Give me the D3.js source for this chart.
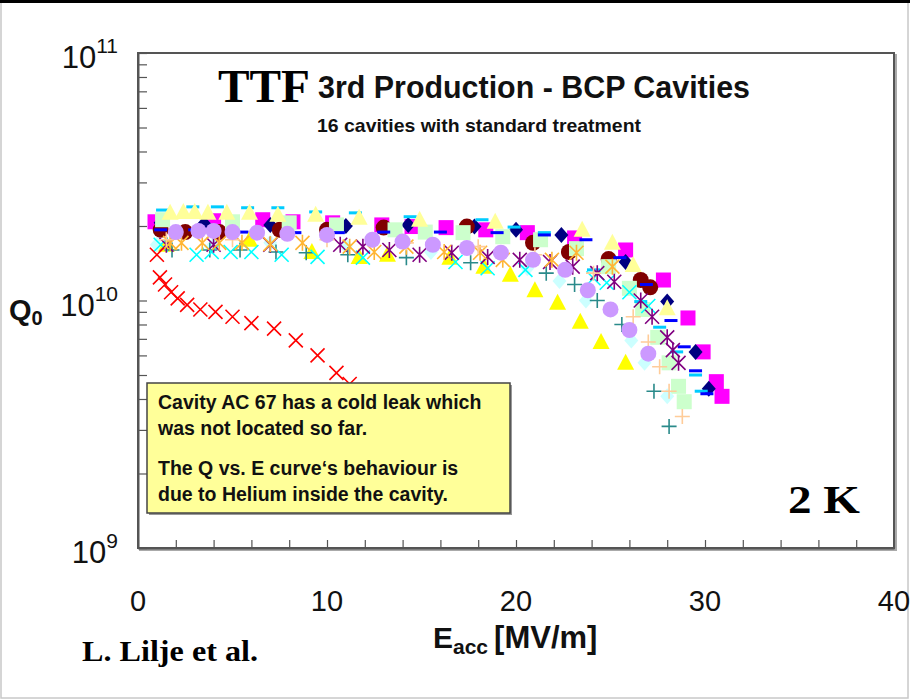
<!DOCTYPE html>
<html><head><meta charset="utf-8">
<script src="https://cdn.jsdelivr.net/npm/d3@7"></script>
<style>body{margin:0;background:#fff}svg{display:block}</style>
</head><body><svg id="c" width="910" height="700"></svg>
<script>
// ---------- data: [Eacc (MV/m), Q0 (x 1e10)] ----------
const magentaSquares = [[0.9,2.08],[4.0,2.10],[6.6,2.12],[8.2,2.08],[10.3,2.06],[12.9,2.02],[14.5,1.99],[16.3,1.97],[18.4,1.93],[20.6,1.88],[23.1,1.79],[25.8,1.60],[27.8,1.21],[29.1,0.85],[29.9,0.62],[30.6,0.47],[30.9,0.41]];
const navyDiamonds = [[1.2,2.06],[3.5,2.04],[7.0,2.02],[11.0,2.00],[14.3,2.02],[17.8,1.99],[20.0,1.93],[22.4,1.84],[25.8,1.43],[28.0,0.99],[29.5,0.62],[30.2,0.44]];
const lightGreenSquares = [[1.3,2.12],[5.0,2.08],[8.0,2.06],[10.5,2.02],[13.6,1.93],[15.2,1.89],[17.2,1.88],[19.3,1.81],[21.3,1.76],[23.2,1.62],[24.9,1.37],[26.0,1.12],[26.7,0.92],[27.5,0.71],[28.1,0.56],[28.6,0.45],[28.9,0.39]];
const darkRedCircles = [[1.2,1.93],[2.5,1.89],[4.3,1.89],[7.5,1.93],[10.0,1.93],[13.0,1.97],[17.4,1.99],[20.9,1.71],[22.8,1.57],[24.9,1.47],[26.6,1.21],[27.1,1.13]];
const cyanDashes = [[1.3,2.32],[2.9,2.39],[4.2,2.39],[5.8,2.37],[7.4,2.37],[9.4,2.28],[11.5,2.26],[14.4,2.18],[18.2,2.12],[19.9,1.98],[21.5,1.88],[24.1,1.33],[26.6,0.99],[27.6,0.78],[28.5,0.62],[29.5,0.50],[29.8,0.43]];
const blueDashes = [[1.2,1.93],[3.0,1.93],[5.5,1.89],[8.3,1.88],[10.6,1.88],[13.0,1.89],[16.0,1.89],[19.0,1.88],[21.5,1.84],[23.7,1.76],[25.5,1.49],[26.9,1.16],[28.2,0.83],[28.9,0.65],[29.5,0.52],[30.1,0.42]];
const lightYellowTriangles = [[1.7,2.26],[2.4,2.28],[3.0,2.28],[3.7,2.26],[4.7,2.26],[5.9,2.26],[7.4,2.22],[9.4,2.22],[11.7,2.16],[14.9,2.12],[18.9,2.08],[23.5,1.93],[25.1,1.71],[26.2,1.39],[28.0,0.93]];
const lightCyanDiamonds = [[1.0,1.68],[4.0,1.68],[7.0,1.71],[11.0,1.66],[15.5,1.57],[20.6,1.35],[22.3,1.20],[23.7,1.00],[26.1,0.69],[26.8,0.56],[28.0,0.41]];
const yellowTriangles = [[1.5,1.68],[5.9,1.76],[9.2,1.57],[11.7,1.50],[13.2,1.53],[16.5,1.49],[18.3,1.37],[19.7,1.27],[21.0,1.10],[22.2,0.98],[23.4,0.82],[24.5,0.68],[25.8,0.56]];
const tealPluses = [[1.8,1.60],[3.8,1.60],[5.4,1.60],[7.3,1.57],[8.9,1.56],[11.1,1.53],[14.2,1.49],[17.6,1.42],[21.6,1.29],[23.1,1.16],[24.3,1.00],[25.6,0.80],[27.3,0.43],[28.1,0.31]];
const cyanCrosses = [[1.2,1.68],[3.1,1.53],[3.9,1.57],[4.9,1.57],[6.0,1.57],[7.6,1.53],[9.5,1.50],[11.9,1.49],[16.8,1.43],[18.5,1.35],[20.5,1.33],[24.1,1.23],[24.8,1.18],[26.0,1.08],[27.0,0.95]];
const purpleAsterisks = [[1.5,1.68],[4.0,1.68],[7.0,1.68],[10.7,1.68],[11.9,1.65],[13.3,1.60],[14.9,1.53],[16.6,1.56],[18.5,1.50],[20.2,1.46],[21.8,1.43],[23.0,1.37],[24.3,1.29],[25.2,1.19],[26.6,1.00],[27.2,0.86],[28.0,0.71],[28.3,0.63],[28.6,0.56]];
const orangeAsterisks = [[1.7,1.71],[2.3,1.71],[3.4,1.71],[4.3,1.71],[5.5,1.71],[7.0,1.69],[8.7,1.71],[11.2,1.65],[12.5,1.57],[14.2,1.65],[16.2,1.57],[18.1,1.56],[19.3,1.46],[21.9,1.46],[23.2,1.56],[25.1,1.37]];
const peachPluses = [[1.5,1.76],[5.0,1.76],[10.0,1.76],[14.2,1.71],[18.0,1.65],[21.0,1.53],[24.1,1.29],[26.2,0.86],[27.0,0.68],[27.6,0.54],[28.1,0.43],[28.8,0.34]];
const lilacCircles = [[2.0,1.89],[3.2,1.91],[4.0,1.91],[5.0,1.89],[6.3,1.88],[7.9,1.86],[10.0,1.84],[12.4,1.76],[14.0,1.73],[15.6,1.68],[17.4,1.63],[19.2,1.56],[20.9,1.46],[22.6,1.33],[23.8,1.10],[25.0,0.92],[26.0,0.76],[27.0,0.61]];
const redCrossesAC67 = [[1.0,1.53],[1.16,1.24],[1.43,1.16],[1.75,1.08],[2.1,1.02],[2.6,0.96],[3.3,0.92],[4.1,0.90],[5.0,0.86],[6.0,0.81],[7.2,0.77],[8.35,0.69],[9.5,0.60],[10.5,0.51],[11.2,0.46],[12.0,0.42],[13.0,0.37]];

const xTickValues = d3.range(0, 41, 2);
const xTickLabels = [0, 10, 20, 30, 40];
const yDecades = [9, 10, 11];

// ---------- layout ----------
const svg = d3.select("#c");
const L = 138, R = 894, T = 53, B = 548;
const x = d3.scaleLinear().domain([0, 40]).range([L, R]);
const y = d3.scaleLog().domain([1e9, 1e11]).range([B, T]);
const SANS = "'Liberation Sans', Arial, sans-serif";
const SERIF = "'Liberation Serif', 'Times New Roman', serif";

// page frame
svg.append("rect").attr("x", 0).attr("y", 0).attr("width", 910).attr("height", 700).attr("fill", "#fff");
svg.append("rect").attr("x", 1).attr("y", 1).attr("width", 907).attr("height", 697).attr("fill", "none").attr("stroke", "#c8c8c8").attr("stroke-width", 1.5);
svg.append("rect").attr("x", 0).attr("y", 0).attr("width", 910).attr("height", 3).attr("fill", "#000");

// plot frame with shadow
svg.append("rect").attr("x", L + 2).attr("y", T + 2).attr("width", R - L).attr("height", B - T).attr("fill", "none").attr("stroke", "#aaa").attr("stroke-width", 2);
svg.append("rect").attr("x", L).attr("y", T).attr("width", R - L).attr("height", B - T).attr("fill", "#fff").attr("stroke", "#555").attr("stroke-width", 2);

// axes
const xAxis = d3.axisBottom(x).tickValues(xTickValues).tickSizeInner(-8).tickSizeOuter(0).tickFormat("");
svg.append("g").attr("transform", `translate(0,${B})`).call(xAxis)
  .call(g => g.select(".domain").attr("stroke", "#555").attr("stroke-width", 2))
  .call(g => g.selectAll(".tick line").attr("stroke", "#555").attr("stroke-width", 1.2));
const yTickVals = [];
for (let d = 9; d < 11; d++) for (let m = 1; m <= 9; m++) yTickVals.push(m * Math.pow(10, d));
yTickVals.push(1e11);
const yAxis = d3.axisLeft(y).tickValues(yTickVals).tickSizeInner(-9).tickSizeOuter(0).tickFormat("");
svg.append("g").attr("transform", `translate(${L},0)`).call(yAxis)
  .call(g => g.select(".domain").attr("stroke", "#555").attr("stroke-width", 2))
  .call(g => g.selectAll(".tick line").attr("stroke", "#555").attr("stroke-width", 1.2));

// x tick labels
svg.append("g").selectAll("text").data(xTickLabels).join("text")
  .attr("x", d => x(d)).attr("y", 611).attr("text-anchor", "middle")
  .attr("font-family", SANS).attr("font-size", 29).attr("fill", "#111").text(d => d);

// y tick labels with superscript
yDecades.forEach(e => {
  const t = svg.append("text").attr("x", 118).attr("y", y(Math.pow(10, e)) + 15).attr("text-anchor", "end")
    .attr("font-family", SANS).attr("fill", "#111");
  t.append("tspan").attr("font-size", 31).text("10");
  t.append("tspan").attr("font-size", 21).attr("dy", -15).text(String(e));
});

// axis titles
const q = svg.append("text").attr("x", 9).attr("y", 320).attr("font-family", SANS).attr("font-weight", "bold").attr("fill", "#111");
q.append("tspan").attr("font-size", 29).text("Q");
q.append("tspan").attr("font-size", 20).attr("dy", 5).text("0");
const ex = svg.append("text").attr("x", 433).attr("y", 648).attr("font-family", SANS).attr("font-weight", "bold").attr("fill", "#111");
ex.append("tspan").attr("font-size", 30).text("E");
ex.append("tspan").attr("font-size", 21).attr("dy", 6).text("acc");
ex.append("tspan").attr("font-size", 31).attr("dy", -6).attr("dx", 6).text("[MV/m]");

// titles
svg.append("text").attr("x", 218).attr("y", 102).attr("font-family", SERIF).attr("font-weight", "bold")
  .attr("font-size", 46).attr("textLength", 92).attr("lengthAdjust", "spacingAndGlyphs").attr("fill", "#000").text("TTF");
svg.append("text").attr("x", 318).attr("y", 98).attr("font-family", SANS).attr("font-weight", "bold")
  .attr("font-size", 31).attr("textLength", 432).attr("lengthAdjust", "spacingAndGlyphs").attr("fill", "#111").text("3rd Production - BCP Cavities");
svg.append("text").attr("x", 317).attr("y", 132).attr("font-family", SANS).attr("font-weight", "bold")
  .attr("font-size", 19).attr("textLength", 324).attr("lengthAdjust", "spacingAndGlyphs").attr("fill", "#111").text("16 cavities with standard treatment");

// ---------- markers ----------
const plot = svg.append("g");
function marker(type, color) {
  return function (sel) {
    sel.each(function (d) {
      const g = d3.select(this);
      const px = x(d[0]), py = y(d[1] * 1e10);
      const s = 7.5;
      switch (type) {
        case "square": g.append("rect").attr("x", px - s).attr("y", py - s).attr("width", 2 * s).attr("height", 2 * s).attr("fill", color); break;
        case "circle": g.append("circle").attr("cx", px).attr("cy", py).attr("r", 8).attr("fill", color); break;
        case "diamond": g.append("path").attr("d", `M${px},${py - 8}L${px + 7},${py}L${px},${py + 8}L${px - 7},${py}Z`).attr("fill", color); break;
        case "triangle": g.append("path").attr("d", `M${px},${py - 9}L${px + 8.5},${py + 7}L${px - 8.5},${py + 7}Z`).attr("fill", color); break;
        case "dash": g.append("rect").attr("x", px - 6.5).attr("y", py - 1.5).attr("width", 13).attr("height", 3).attr("fill", color); break;
        case "cross": g.append("path").attr("d", `M${px - 7},${py - 7}L${px + 7},${py + 7}M${px - 7},${py + 7}L${px + 7},${py - 7}`).attr("stroke", color).attr("stroke-width", 1.6).attr("fill", "none"); break;
        case "plus": g.append("path").attr("d", `M${px - 7.5},${py}L${px + 7.5},${py}M${px},${py - 7.5}L${px},${py + 7.5}`).attr("stroke", color).attr("stroke-width", 1.6).attr("fill", "none"); break;
        case "asterisk": g.append("path").attr("d", `M${px - 7},${py - 7}L${px + 7},${py + 7}M${px - 7},${py + 7}L${px + 7},${py - 7}M${px},${py - 8}L${px},${py + 8}`).attr("stroke", color).attr("stroke-width", 1.6).attr("fill", "none"); break;
      }
    });
  };
}
const seriesList = [
  [magentaSquares, "square", "#FF00FF"],
  [navyDiamonds, "diamond", "#000080"],
  [darkRedCircles, "circle", "#800000"],
  [lightGreenSquares, "square", "#CCFFCC"],
  [cyanDashes, "dash", "#00CCFF"],
  [blueDashes, "dash", "#0000FF"],
  [lightYellowTriangles, "triangle", "#FFFF99"],
  [lightCyanDiamonds, "diamond", "#CCFFFF"],
  [yellowTriangles, "triangle", "#FFFF00"],
  [tealPluses, "plus", "#2A8A8A"],
  [cyanCrosses, "cross", "#00FFFF"],
  [purpleAsterisks, "asterisk", "#800080"],
  [orangeAsterisks, "asterisk", "#FFB534"],
  [peachPluses, "plus", "#FFCC99"],
  [lilacCircles, "circle", "#CC99FF"],
  [redCrossesAC67, "cross", "#FF0000"]
];
seriesList.forEach(([data, type, color]) => {
  plot.append("g").selectAll("g").data(data).join("g").call(marker(type, color));
});

// ---------- annotation box ----------
svg.append("rect").attr("x", 149).attr("y", 385).attr("width", 363).attr("height", 130).attr("fill", "#999");
svg.append("rect").attr("x", 147).attr("y", 383).attr("width", 363).attr("height", 130).attr("fill", "#FFFF99").attr("stroke", "#444").attr("stroke-width", 1.5);
const noteLines = [["Cavity AC 67 has a cold leak which", 409, 325], ["was not located so far.", 435, 212], ["The Q vs. E curve\u2018s behaviour is", 475, 300], ["due to Helium inside the cavity.", 501, 290]];
svg.append("g").selectAll("text").data(noteLines).join("text")
  .attr("x", 158).attr("y", d => d[1]).attr("font-family", SANS).attr("font-weight", "bold")
  .attr("font-size", 19.5).attr("fill", "#111").text(d => d[0]);

// ---------- other labels ----------
svg.append("text").attr("x", 788).attr("y", 513).attr("font-family", SERIF).attr("font-weight", "bold")
  .attr("font-size", 40).attr("textLength", 72).attr("lengthAdjust", "spacingAndGlyphs").attr("fill", "#000").text("2 K");
svg.append("text").attr("x", 82).attr("y", 661).attr("font-family", SERIF).attr("font-weight", "bold")
  .attr("font-size", 29).attr("textLength", 176).attr("lengthAdjust", "spacingAndGlyphs").attr("fill", "#000").text("L. Lilje et al.");
</script></body></html>
